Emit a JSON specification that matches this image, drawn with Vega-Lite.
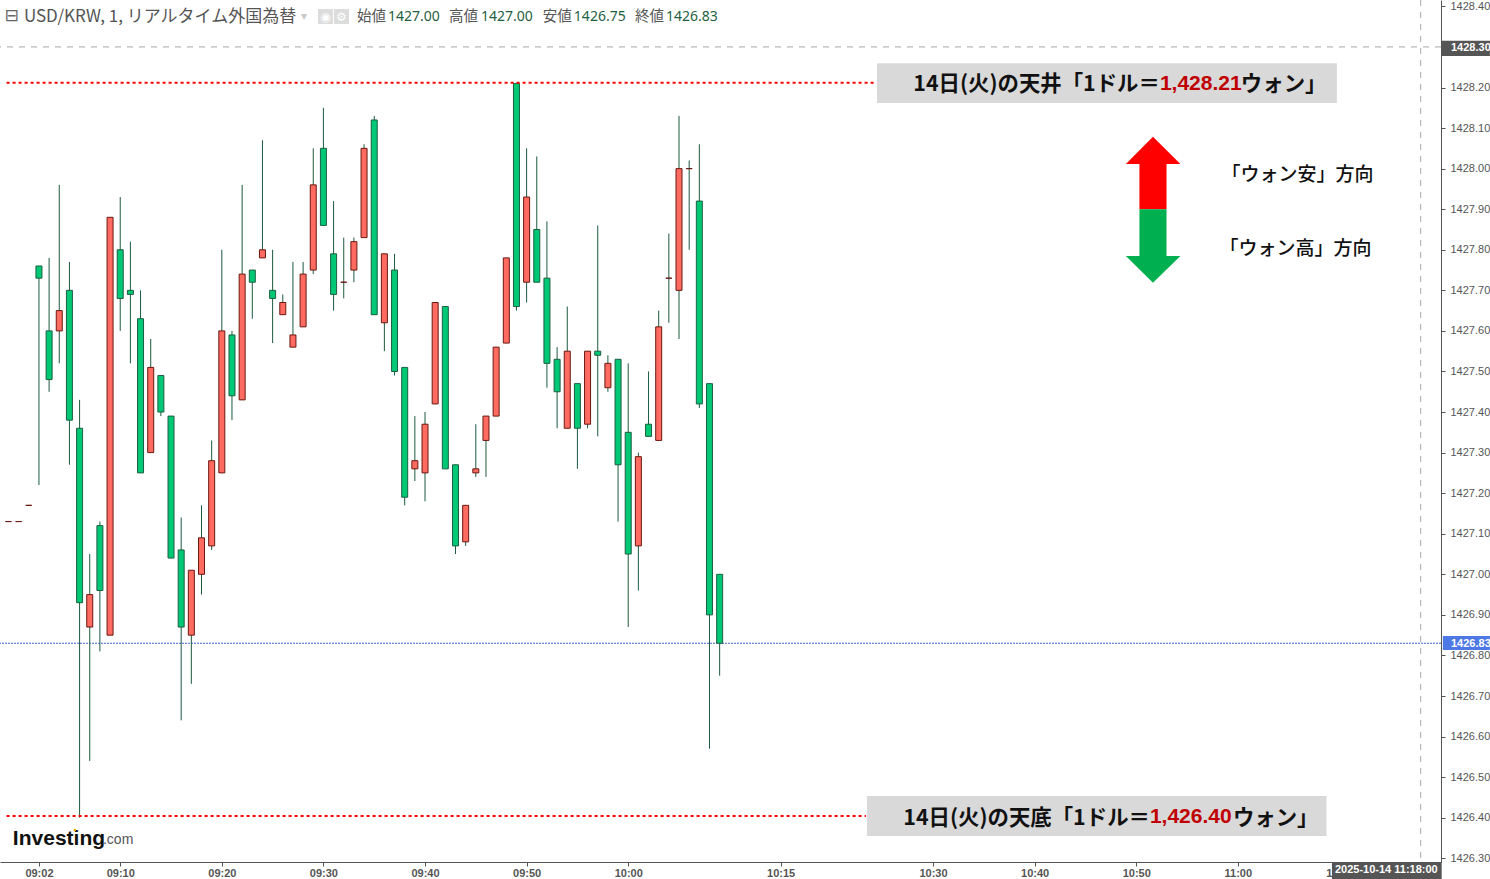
{
"$schema":"https://vega.github.io/schema/vega-lite/v6.json",
"width":1441,"height":862,
"autosize":{"type":"none"},
"padding":{"left":0,"top":0,"right":49,"bottom":17},
"background":"#ffffff",
"view":{"stroke":null},
"config":{"font":"Liberation Sans"},
"datasets":{
"candles":[
{"t":"2025-10-14T08:59:00Z","o":1427.13,"h":1427.13,"l":1427.13,"c":1427.13},
{"t":"2025-10-14T09:00:00Z","o":1427.13,"h":1427.13,"l":1427.13,"c":1427.13},
{"t":"2025-10-14T09:01:00Z","o":1427.17,"h":1427.17,"l":1427.17,"c":1427.17},
{"t":"2025-10-14T09:02:00Z","o":1427.76,"h":1427.76,"l":1427.22,"c":1427.73},
{"t":"2025-10-14T09:03:00Z","o":1427.60,"h":1427.78,"l":1427.45,"c":1427.48},
{"t":"2025-10-14T09:04:00Z","o":1427.60,"h":1427.96,"l":1427.52,"c":1427.65},
{"t":"2025-10-14T09:05:00Z","o":1427.70,"h":1427.77,"l":1427.27,"c":1427.38},
{"t":"2025-10-14T09:06:00Z","o":1427.36,"h":1427.43,"l":1426.40,"c":1426.93},
{"t":"2025-10-14T09:07:00Z","o":1426.87,"h":1427.05,"l":1426.54,"c":1426.95},
{"t":"2025-10-14T09:08:00Z","o":1427.12,"h":1427.13,"l":1426.81,"c":1426.96},
{"t":"2025-10-14T09:09:00Z","o":1426.85,"h":1427.88,"l":1426.85,"c":1427.88},
{"t":"2025-10-14T09:10:00Z","o":1427.80,"h":1427.93,"l":1427.60,"c":1427.68},
{"t":"2025-10-14T09:11:00Z","o":1427.70,"h":1427.82,"l":1427.52,"c":1427.69},
{"t":"2025-10-14T09:12:00Z","o":1427.63,"h":1427.70,"l":1427.25,"c":1427.25},
{"t":"2025-10-14T09:13:00Z","o":1427.30,"h":1427.58,"l":1427.30,"c":1427.51},
{"t":"2025-10-14T09:14:00Z","o":1427.49,"h":1427.49,"l":1427.39,"c":1427.40},
{"t":"2025-10-14T09:15:00Z","o":1427.39,"h":1427.39,"l":1427.04,"c":1427.04},
{"t":"2025-10-14T09:16:00Z","o":1427.06,"h":1427.14,"l":1426.64,"c":1426.87},
{"t":"2025-10-14T09:17:00Z","o":1426.85,"h":1427.01,"l":1426.73,"c":1427.01},
{"t":"2025-10-14T09:18:00Z","o":1427.00,"h":1427.17,"l":1426.95,"c":1427.09},
{"t":"2025-10-14T09:19:00Z","o":1427.07,"h":1427.33,"l":1427.06,"c":1427.28},
{"t":"2025-10-14T09:20:00Z","o":1427.25,"h":1427.80,"l":1427.25,"c":1427.60},
{"t":"2025-10-14T09:21:00Z","o":1427.59,"h":1427.60,"l":1427.38,"c":1427.44},
{"t":"2025-10-14T09:22:00Z","o":1427.43,"h":1427.96,"l":1427.43,"c":1427.74},
{"t":"2025-10-14T09:23:00Z","o":1427.75,"h":1427.75,"l":1427.63,"c":1427.72},
{"t":"2025-10-14T09:24:00Z","o":1427.78,"h":1428.07,"l":1427.78,"c":1427.80},
{"t":"2025-10-14T09:25:00Z","o":1427.70,"h":1427.80,"l":1427.57,"c":1427.68},
{"t":"2025-10-14T09:26:00Z","o":1427.64,"h":1427.69,"l":1427.64,"c":1427.67},
{"t":"2025-10-14T09:27:00Z","o":1427.56,"h":1427.77,"l":1427.56,"c":1427.59},
{"t":"2025-10-14T09:28:00Z","o":1427.61,"h":1427.77,"l":1427.61,"c":1427.74},
{"t":"2025-10-14T09:29:00Z","o":1427.75,"h":1428.05,"l":1427.74,"c":1427.96},
{"t":"2025-10-14T09:30:00Z","o":1428.05,"h":1428.15,"l":1427.86,"c":1427.86},
{"t":"2025-10-14T09:31:00Z","o":1427.79,"h":1427.92,"l":1427.65,"c":1427.69},
{"t":"2025-10-14T09:32:00Z","o":1427.72,"h":1427.83,"l":1427.68,"c":1427.72},
{"t":"2025-10-14T09:33:00Z","o":1427.75,"h":1427.83,"l":1427.72,"c":1427.82},
{"t":"2025-10-14T09:34:00Z","o":1427.83,"h":1428.06,"l":1427.83,"c":1428.05},
{"t":"2025-10-14T09:35:00Z","o":1428.12,"h":1428.13,"l":1427.64,"c":1427.64},
{"t":"2025-10-14T09:36:00Z","o":1427.62,"h":1427.79,"l":1427.55,"c":1427.79},
{"t":"2025-10-14T09:37:00Z","o":1427.75,"h":1427.79,"l":1427.49,"c":1427.50},
{"t":"2025-10-14T09:38:00Z","o":1427.51,"h":1427.51,"l":1427.17,"c":1427.19},
{"t":"2025-10-14T09:39:00Z","o":1427.26,"h":1427.39,"l":1427.23,"c":1427.28},
{"t":"2025-10-14T09:40:00Z","o":1427.25,"h":1427.40,"l":1427.18,"c":1427.37},
{"t":"2025-10-14T09:41:00Z","o":1427.42,"h":1427.67,"l":1427.42,"c":1427.67},
{"t":"2025-10-14T09:42:00Z","o":1427.66,"h":1427.66,"l":1427.26,"c":1427.26},
{"t":"2025-10-14T09:43:00Z","o":1427.27,"h":1427.27,"l":1427.05,"c":1427.07},
{"t":"2025-10-14T09:44:00Z","o":1427.08,"h":1427.17,"l":1427.07,"c":1427.17},
{"t":"2025-10-14T09:45:00Z","o":1427.25,"h":1427.37,"l":1427.24,"c":1427.26},
{"t":"2025-10-14T09:46:00Z","o":1427.33,"h":1427.39,"l":1427.24,"c":1427.39},
{"t":"2025-10-14T09:47:00Z","o":1427.39,"h":1427.56,"l":1427.39,"c":1427.56},
{"t":"2025-10-14T09:48:00Z","o":1427.57,"h":1427.78,"l":1427.57,"c":1427.78},
{"t":"2025-10-14T09:49:00Z","o":1428.21,"h":1428.21,"l":1427.65,"c":1427.66},
{"t":"2025-10-14T09:50:00Z","o":1427.72,"h":1428.05,"l":1427.67,"c":1427.93},
{"t":"2025-10-14T09:51:00Z","o":1427.85,"h":1428.03,"l":1427.72,"c":1427.72},
{"t":"2025-10-14T09:52:00Z","o":1427.73,"h":1427.87,"l":1427.46,"c":1427.52},
{"t":"2025-10-14T09:53:00Z","o":1427.53,"h":1427.56,"l":1427.36,"c":1427.45},
{"t":"2025-10-14T09:54:00Z","o":1427.36,"h":1427.66,"l":1427.36,"c":1427.55},
{"t":"2025-10-14T09:55:00Z","o":1427.47,"h":1427.47,"l":1427.26,"c":1427.36},
{"t":"2025-10-14T09:56:00Z","o":1427.37,"h":1427.55,"l":1427.36,"c":1427.55},
{"t":"2025-10-14T09:57:00Z","o":1427.55,"h":1427.86,"l":1427.34,"c":1427.54},
{"t":"2025-10-14T09:58:00Z","o":1427.46,"h":1427.54,"l":1427.45,"c":1427.52},
{"t":"2025-10-14T09:59:00Z","o":1427.53,"h":1427.53,"l":1427.13,"c":1427.27},
{"t":"2025-10-14T10:00:00Z","o":1427.35,"h":1427.52,"l":1426.87,"c":1427.05},
{"t":"2025-10-14T10:01:00Z","o":1427.07,"h":1427.30,"l":1426.96,"c":1427.29},
{"t":"2025-10-14T10:02:00Z","o":1427.37,"h":1427.50,"l":1427.34,"c":1427.34},
{"t":"2025-10-14T10:03:00Z","o":1427.33,"h":1427.65,"l":1427.33,"c":1427.61},
{"t":"2025-10-14T10:04:00Z","o":1427.73,"h":1427.84,"l":1427.62,"c":1427.73},
{"t":"2025-10-14T10:05:00Z","o":1427.70,"h":1428.13,"l":1427.58,"c":1428.00},
{"t":"2025-10-14T10:06:00Z","o":1428.00,"h":1428.02,"l":1427.80,"c":1428.00},
{"t":"2025-10-14T10:07:00Z","o":1427.92,"h":1428.06,"l":1427.41,"c":1427.42},
{"t":"2025-10-14T10:08:00Z","o":1427.47,"h":1427.47,"l":1426.57,"c":1426.90},
{"t":"2025-10-14T10:09:00Z","o":1427.00,"h":1427.00,"l":1426.75,"c":1426.83}
]
},
"layer":[
{"data":{"values":[{"t":"2025-10-14T10:24:29Z","t2":"2025-10-14T11:09:45Z","p":1428.260,"p2":1428.162},{"t":"2025-10-14T10:23:30Z","t2":"2025-10-14T11:08:44Z","p":1426.4535,"p2":1426.3549}]},
"mark":{"type":"rect","color":"#d9d9d9"},
"encoding":{
"x":{"field":"t","type":"temporal","title":null,
 "scale":{"type":"utc","nice":false,"padding":0,"domain":[{"year":2025,"month":10,"date":14,"hours":8,"minutes":58,"seconds":10,"utc":true},{"year":2025,"month":10,"date":14,"hours":11,"minutes":20,"utc":true}]},
 "axis":{"orient":"bottom","format":"%H:%M","grid":false,"domainColor":"#555555","domainWidth":1,"tickColor":"#555555","tickSize":4,"labelColor":"#555555","labelFont":"Liberation Sans","labelFontSize":11,"labelFontWeight":"bold","labelPadding":1,"labelOverlap":false,"labelFlush":false,"labelBound":false,
  "values":[
  {"year":2025,"month":10,"date":14,"hours":9,"minutes":2,"utc":true},
  {"year":2025,"month":10,"date":14,"hours":9,"minutes":10,"utc":true},
  {"year":2025,"month":10,"date":14,"hours":9,"minutes":20,"utc":true},
  {"year":2025,"month":10,"date":14,"hours":9,"minutes":30,"utc":true},
  {"year":2025,"month":10,"date":14,"hours":9,"minutes":40,"utc":true},
  {"year":2025,"month":10,"date":14,"hours":9,"minutes":50,"utc":true},
  {"year":2025,"month":10,"date":14,"hours":10,"minutes":0,"utc":true},
  {"year":2025,"month":10,"date":14,"hours":10,"minutes":15,"utc":true},
  {"year":2025,"month":10,"date":14,"hours":10,"minutes":30,"utc":true},
  {"year":2025,"month":10,"date":14,"hours":10,"minutes":40,"utc":true},
  {"year":2025,"month":10,"date":14,"hours":10,"minutes":50,"utc":true},
  {"year":2025,"month":10,"date":14,"hours":11,"minutes":0,"utc":true},
  {"year":2025,"month":10,"date":14,"hours":11,"minutes":10,"utc":true}
  ]}},
"x2":{"field":"t2"},
"y":{"field":"p","type":"quantitative","title":null,
 "scale":{"domain":[1426.2908,1428.4157],"zero":false,"nice":false},
 "axis":{"orient":"right","format":".2f","grid":false,"domainColor":"#555555","domainWidth":1,"tickColor":"#555555","tickSize":4,"labelColor":"#555555","labelFont":"Liberation Sans","labelFontSize":11,"labelPadding":5,"labelOverlap":false,"labelFlush":false,"labelBound":false,
  "values":[1426.3,1426.4,1426.5,1426.6,1426.7,1426.8,1426.9,1427.0,1427.1,1427.2,1427.3,1427.4,1427.5,1427.6,1427.7,1427.8,1427.9,1428.0,1428.1,1428.2,1428.4]}},
"y2":{"field":"p2"}
}},
{"data":{"values":[{"p":1428.30}]},"mark":{"type":"rule","color":"#a8a8a8","strokeWidth":1,"strokeDash":[6,6]},"encoding":{"y":{"field":"p","type":"quantitative"}}},
{"data":{"values":[{"t":"2025-10-14T11:18:00Z"}]},"mark":{"type":"rule","color":"#a8a8a8","strokeWidth":1,"strokeDash":[6,6]},"encoding":{"x":{"field":"t","type":"temporal"}}},
{"data":{"values":[{"p":1426.83}]},"mark":{"type":"rule","color":"#3f66d6","strokeWidth":1,"strokeDash":[2,1]},"encoding":{"y":{"field":"p","type":"quantitative"}}},
{"data":{"name":"candles"},"mark":{"type":"rule","color":"#1c5a3e","strokeWidth":1},
 "encoding":{"x":{"field":"t","type":"temporal"},"y":{"field":"l","type":"quantitative"},"y2":{"field":"h"}}},
{"data":{"name":"candles"},"mark":{"type":"bar","size":6,"strokeWidth":1},
 "encoding":{"x":{"field":"t","type":"temporal"},"y":{"field":"o","type":"quantitative"},"y2":{"field":"c"},
 "fill":{"condition":{"test":"datum.c>=datum.o","value":"#ff6b60"},"value":"#00c875"},
 "stroke":{"condition":{"test":"datum.c>=datum.o","value":"#6a1810"},"value":"#1c5f42"}}},
{"data":{"values":[{"t":"2025-10-14T08:58:49Z","t2":"2025-10-14T10:24:17Z","p":1428.212},{"t":"2025-10-14T08:58:49Z","t2":"2025-10-14T10:23:24Z","p":1426.404}]},
 "mark":{"type":"rule","color":"#ff0000","strokeWidth":2,"strokeDash":[3,3]},
 "encoding":{"x":{"field":"t","type":"temporal"},"x2":{"field":"t2"},"y":{"field":"p","type":"quantitative"}}},
{"data":{"values":[{"t":"2025-10-14T10:50:19Z","t2":"2025-10-14T10:52:59Z","p":1428.0114,"p2":1427.8998,"k":"up"},{"t":"2025-10-14T10:50:19Z","t2":"2025-10-14T10:52:59Z","p":1427.8998,"p2":1427.7846,"k":"down"}]},
 "mark":{"type":"rect"},
 "encoding":{"x":{"field":"t","type":"temporal"},"x2":{"field":"t2"},"y":{"field":"p","type":"quantitative"},"y2":{"field":"p2"},
 "color":{"field":"k","type":"nominal","legend":null,"scale":{"domain":["up","down"],"range":["#ff0000","#00b050"]}}}},
{"data":{"values":[{"t":"2025-10-14T10:48:59Z","p":1428.0114,"p2":1428.0114},{"t":"2025-10-14T10:51:39Z","p":1428.0787,"p2":1428.0114},{"t":"2025-10-14T10:54:21Z","p":1428.0114,"p2":1428.0114}]},
 "mark":{"type":"area","color":"#ff0000","interpolate":"linear"},
 "encoding":{"x":{"field":"t","type":"temporal"},"y":{"field":"p","type":"quantitative"},"y2":{"field":"p2"}}},
{"data":{"values":[{"t":"2025-10-14T10:48:59Z","p":1427.7846,"p2":1427.7846},{"t":"2025-10-14T10:51:39Z","p":1427.7846,"p2":1427.7188},{"t":"2025-10-14T10:54:21Z","p":1427.7846,"p2":1427.7846}]},
 "mark":{"type":"area","color":"#00b050","interpolate":"linear"},
 "encoding":{"x":{"field":"t","type":"temporal"},"y":{"field":"p","type":"quantitative"},"y2":{"field":"p2"}}},
{"data":{"values":[{"t":"2025-10-14T10:52:20Z","p":1428.205,"s":"14日(火)の天井「1ドル＝"},{"t":"2025-10-14T10:51:21Z","p":1426.398,"s":"14日(火)の天底「1ドル＝"}]},
 "mark":{"type":"text","font":"Noto Sans CJK JP","fontWeight":"bold","fontSize":21.4,"align":"right","baseline":"middle","color":"#111111"},
 "encoding":{"x":{"field":"t","type":"temporal"},"y":{"field":"p","type":"quantitative"},"text":{"field":"s"}}},
{"data":{"values":[{"t":"2025-10-14T10:52:20Z","p":1428.2086,"s":"1,428.21"},{"t":"2025-10-14T10:51:21Z","p":1426.4017,"s":"1,426.40"}]},
 "mark":{"type":"text","font":"Liberation Sans","fontWeight":"bold","fontSize":21,"align":"left","baseline":"middle","color":"#c00000"},
 "encoding":{"x":{"field":"t","type":"temporal"},"y":{"field":"p","type":"quantitative"},"text":{"field":"s"}}},
{"data":{"values":[{"t":"2025-10-14T11:00:18Z","p":1428.205,"s":"ウォン」"},{"t":"2025-10-14T10:59:31Z","p":1426.398,"s":"ウォン」"}]},
 "mark":{"type":"text","font":"Noto Sans CJK JP","fontWeight":"bold","fontSize":21.4,"align":"left","baseline":"middle","color":"#111111"},
 "encoding":{"x":{"field":"t","type":"temporal"},"y":{"field":"p","type":"quantitative"},"text":{"field":"s"}}},
{"data":{"values":[{"t":"2025-10-14T11:05:52Z","p":1427.9855,"s":"「ウォン安」方向"},{"t":"2025-10-14T11:05:40Z","p":1427.8025,"s":"「ウォン高」方向"}]},
 "mark":{"type":"text","font":"Noto Sans CJK JP","fontWeight":500,"fontSize":19,"align":"center","baseline":"middle","color":"#111111"},
 "encoding":{"x":{"field":"t","type":"temporal"},"y":{"field":"p","type":"quantitative"},"text":{"field":"s"}}},
{"data":{"values":[{"t":"2025-10-14T08:59:18Z","p":1428.3763,"s":"⊟"}]},
 "mark":{"type":"text","font":"DejaVu Sans","fontSize":17,"align":"center","baseline":"middle","color":"#666666"},
 "encoding":{"x":{"field":"t","type":"temporal"},"y":{"field":"p","type":"quantitative"},"text":{"field":"s"}}},
{"data":{"values":[{"t":"2025-10-14T09:00:31Z","p":1428.3745,"s":"USD/KRW, 1, リアルタイム外国為替"}]},
 "mark":{"type":"text","font":"Noto Sans CJK JP","fontSize":17,"align":"left","baseline":"middle","color":"#555555"},
 "encoding":{"x":{"field":"t","type":"temporal"},"y":{"field":"p","type":"quantitative"},"text":{"field":"s"}}},
{"data":{"values":[{"t":"2025-10-14T09:28:05Z","p":1428.3763,"s":"▾"}]},
 "mark":{"type":"text","font":"DejaVu Sans","fontSize":12,"align":"center","baseline":"middle","color":"#c8c8c8"},
 "encoding":{"x":{"field":"t","type":"temporal"},"y":{"field":"p","type":"quantitative"},"text":{"field":"s"}}},
{"data":{"values":[{"t":"2025-10-14T09:29:28Z","t2":"2025-10-14T09:30:56Z","p":1428.3935,"p2":1428.3565},{"t":"2025-10-14T09:31:02Z","t2":"2025-10-14T09:32:31Z","p":1428.3935,"p2":1428.3565}]},
 "mark":{"type":"rect","color":"#dcdcdc"},
 "encoding":{"x":{"field":"t","type":"temporal"},"x2":{"field":"t2"},"y":{"field":"p","type":"quantitative"},"y2":{"field":"p2"}}},
{"data":{"values":[{"t":"2025-10-14T09:30:12Z","p":1428.3750,"s":"◉"},{"t":"2025-10-14T09:31:46Z","p":1428.3750,"s":"⚙"}]},
 "mark":{"type":"text","font":"DejaVu Sans","fontSize":12,"align":"center","baseline":"middle","color":"#ffffff"},
 "encoding":{"x":{"field":"t","type":"temporal"},"y":{"field":"p","type":"quantitative"},"text":{"field":"s"}}},
{"data":{"values":[{"t":"2025-10-14T09:33:18Z","p":1428.3745,"s":"始値"},{"t":"2025-10-14T09:42:21Z","p":1428.3745,"s":"高値"},{"t":"2025-10-14T09:51:36Z","p":1428.3745,"s":"安値"},{"t":"2025-10-14T10:00:40Z","p":1428.3745,"s":"終値"}]},
 "mark":{"type":"text","font":"Noto Sans CJK JP","fontSize":14.5,"align":"left","baseline":"middle","color":"#555555"},
 "encoding":{"x":{"field":"t","type":"temporal"},"y":{"field":"p","type":"quantitative"},"text":{"field":"s"}}},
{"data":{"values":[{"t":"2025-10-14T09:36:21Z","p":1428.3745,"s":"1427.00"},{"t":"2025-10-14T09:45:30Z","p":1428.3745,"s":"1427.00"},{"t":"2025-10-14T09:54:39Z","p":1428.3745,"s":"1426.75"},{"t":"2025-10-14T10:03:43Z","p":1428.3745,"s":"1426.83"}]},
 "mark":{"type":"text","font":"Noto Sans","fontSize":14,"align":"left","baseline":"middle","color":"#1f5f43"},
 "encoding":{"x":{"field":"t","type":"temporal"},"y":{"field":"p","type":"quantitative"},"text":{"field":"s"}}},
{"data":{"values":[{"t":"2025-10-14T08:59:26Z","p":1426.3475,"s":"Investing"}]},
 "mark":{"type":"text","font":"Liberation Sans","fontWeight":"bold","fontSize":21,"align":"left","baseline":"middle","color":"#111111"},
 "encoding":{"x":{"field":"t","type":"temporal"},"y":{"field":"p","type":"quantitative"},"text":{"field":"s"}}},
{"data":{"values":[{"t":"2025-10-14T09:08:18Z","p":1426.345,"s":".com"}]},
 "mark":{"type":"text","font":"Liberation Sans","fontSize":14,"align":"left","baseline":"middle","color":"#555555"},
 "encoding":{"x":{"field":"t","type":"temporal"},"y":{"field":"p","type":"quantitative"},"text":{"field":"s"}}},
{"data":{"values":[{"t":"2025-10-14T09:05:32Z","p":1426.3697}]},
 "mark":{"type":"point","filled":true,"size":7,"color":"#f7a600","opacity":1},
 "encoding":{"x":{"field":"t","type":"temporal"},"y":{"field":"p","type":"quantitative"}}},
{"data":{"values":[{"t":"2025-10-14T11:20:05Z","t2":"2025-10-14T11:24:49Z","p":1428.3154,"p2":1428.2777,"k":"crosshair"},{"t":"2025-10-14T11:20:11Z","t2":"2025-10-14T11:24:49Z","p":1426.8479,"p2":1426.8134,"k":"last"},{"t":"2025-10-14T11:09:16Z","t2":"2025-10-14T11:20:04Z","p":1426.2908,"p2":1426.2489,"k":"crosshair"}]},
 "mark":{"type":"rect"},
 "encoding":{"x":{"field":"t","type":"temporal"},"x2":{"field":"t2"},"y":{"field":"p","type":"quantitative"},"y2":{"field":"p2"},
 "fill":{"field":"k","type":"nominal","legend":null,"scale":{"domain":["crosshair","last"],"range":["#555555","#4d78e6"]}}}},
{"data":{"values":[{"t":"2025-10-14T11:20:59Z","p":1428.2965,"s":"1428.30"},{"t":"2025-10-14T11:20:59Z","p":1426.8285,"s":"1426.83"}]},
 "mark":{"type":"text","font":"Liberation Sans","fontWeight":"bold","fontSize":11,"align":"left","baseline":"middle","color":"#ffffff"},
 "encoding":{"x":{"field":"t","type":"temporal"},"y":{"field":"p","type":"quantitative"},"text":{"field":"s"}}},
{"data":{"values":[{"t":"2025-10-14T11:14:37Z","p":1426.2699,"s":"2025-10-14 11:18:00"}]},
 "mark":{"type":"text","font":"Liberation Sans","fontWeight":"bold","fontSize":11,"align":"center","baseline":"middle","color":"#ffffff"},
 "encoding":{"x":{"field":"t","type":"temporal"},"y":{"field":"p","type":"quantitative"},"text":{"field":"s"}}}
]
}
